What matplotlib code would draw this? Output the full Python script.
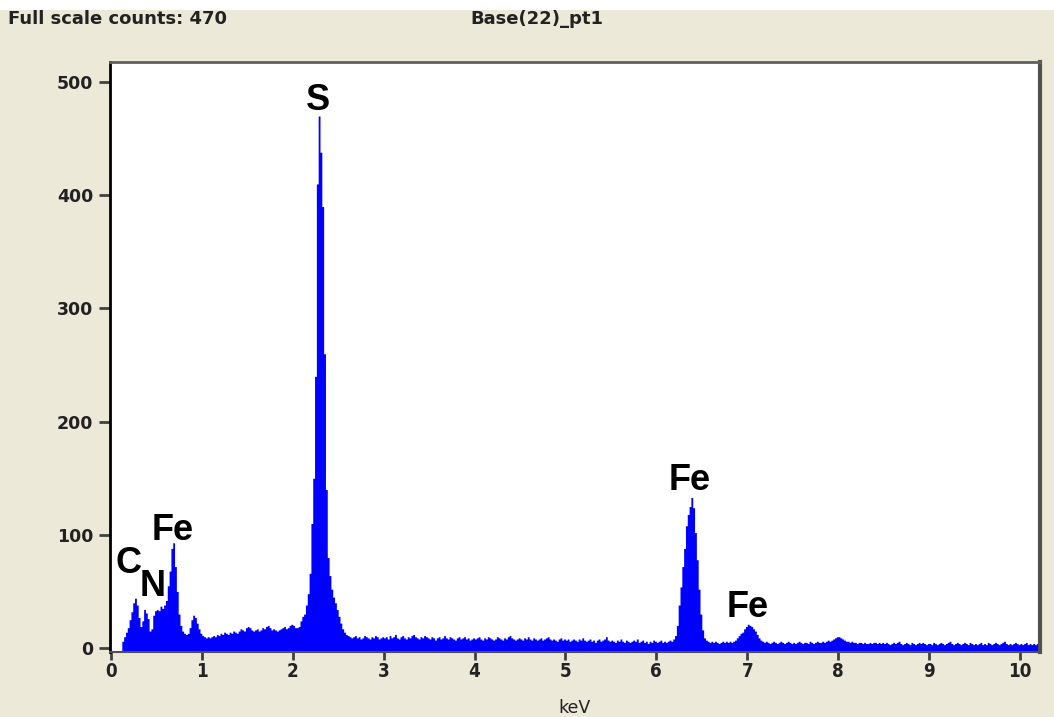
import numpy as np
import matplotlib.pyplot as plt
from matplotlib.patches import Rectangle

# EDS spectrum, 20 eV channels starting at 0.12 keV
channel_start = 0.12
channel_width = 0.02

counts = [
    # 0.12 - 0.48
    6, 10, 14, 18, 25, 32, 40, 44, 38, 27, 19, 24, 34, 31, 26, 15, 17, 29, 33,
    # 0.50 - 0.98
    34, 33, 37, 35, 38, 42, 55, 68, 88, 93, 72, 50, 30, 20, 15, 13, 12, 13, 18, 25, 29, 27, 22, 17, 13,
    # 1.00 - 1.48
    11, 10, 9, 10, 9, 10, 11, 10, 12, 11, 13, 12, 14, 13, 12, 14, 13, 15, 14, 13, 15, 17, 16, 15, 18,
    # 1.50 - 1.98
    19, 18, 16, 15, 16, 17, 15, 16, 18, 17, 19, 20, 18, 16, 17, 16, 15, 16, 17, 18, 19, 17, 18, 20, 21,
    # 2.00 - 2.48
    20, 18, 18, 19, 24, 28, 30, 38, 48, 66, 110, 150, 240, 410, 470, 438, 390, 260, 140, 80, 64, 52, 45, 40, 34,
    # 2.50 - 2.98
    28, 22, 17, 14, 12, 11, 10, 9, 10, 11, 9, 10, 8, 9, 11, 10, 9, 8, 10, 9, 11, 10, 8, 9, 10,
    # 3.00 - 3.48
    9, 10, 8, 11, 9, 10, 12, 9, 8, 10, 11, 9, 8, 10, 9, 11, 12, 10, 9, 8, 10, 9, 11, 10, 9,
    # 3.50 - 3.98
    8, 10, 9, 7, 9, 10, 8, 9, 11, 9, 8, 10, 9, 8, 7, 9, 10, 8, 9, 10, 8, 9, 7, 8, 9,
    # 4.00 - 4.48
    8, 9, 10, 8, 7, 9, 8, 10, 9, 8, 7, 8, 10, 9, 8, 7, 9, 8, 10, 11, 9, 8, 7, 8, 9,
    # 4.50 - 4.98
    8, 7, 9, 8, 10, 8, 7, 9, 8, 7, 8, 9, 7, 8, 9, 10, 8, 7, 8, 7, 6, 8, 9, 7, 8,
    # 5.00 - 5.48
    7, 8, 6, 7, 8, 7, 6, 8, 7, 9, 7, 6, 7, 8, 6, 7, 5, 7, 8, 6, 7, 8, 10, 7, 6,
    # 5.50 - 5.98
    7, 6, 5, 7, 6, 8, 6, 5, 7, 6, 5, 6, 7, 6, 8, 5, 6, 7, 5, 6, 4, 6, 5, 7, 6,
    # 6.00 - 6.48
    5, 6, 7, 5, 6, 5, 6, 7, 6, 8, 11, 20, 38, 54, 72, 88, 108, 118, 125, 133, 124, 102, 78, 52, 30,
    # 6.50 - 6.98
    16, 9, 7, 6, 5, 6, 5, 6, 5, 4, 5, 6, 5, 6, 5, 6, 5, 6, 7, 9, 11, 13, 14, 17, 19,
    # 7.00 - 7.48
    21, 20, 19, 17, 15, 12, 9, 7, 6, 5, 6, 5, 4, 5, 6, 5, 4, 5, 6, 5, 4, 5, 6, 5, 4,
    # 7.50 - 7.98
    5, 4, 5, 6, 5, 4, 5, 5, 4, 6, 5, 4, 5, 6, 5, 5, 6, 5, 6, 7, 6, 7, 8, 9, 10,
    # 8.00 - 8.48
    10, 9, 8, 7, 6, 6, 5, 6, 5, 5, 4, 5, 5, 4, 5, 4, 4, 5, 4, 5, 5, 4, 5, 4, 5,
    # 8.50 - 8.98
    4, 5, 4, 3, 4, 5, 4, 5, 6, 4, 3, 4, 5, 4, 3, 5, 4, 3, 4, 5, 4, 5, 4, 3, 4,
    # 9.00 - 9.48
    4, 3, 5, 4, 3, 4, 5, 4, 3, 4, 5, 6, 4, 3, 4, 5, 4, 3, 4, 5, 4, 3, 5, 4, 3,
    # 9.50 - 9.98
    4, 3, 4, 5, 3, 4, 3, 5, 4, 3, 4, 5, 4, 3, 4, 5, 6, 4, 3, 4, 3, 4, 5, 4, 3,
    # 10.00 - 10.18
    4, 3, 4, 5, 3, 4, 3, 4, 3, 4,
]

# peak labels: element, energy (keV), height of label centre (counts)
peak_names = ['C', 'N', 'Fe', 'S', 'Fe', 'Fe']
peak_x = [0.19, 0.46, 0.68, 2.28, 6.37, 7.01]
peak_y = [75, 54, 104, 484, 148, 36]

x_ticks = list(range(0, 11))
y_ticks = [0, 100, 200, 300, 400, 500]

counts = np.array(counts, dtype=float)
edges = channel_start + channel_width * np.arange(len(counts) + 1)
counts_step = np.append(counts, counts[-1])

beige = '#ECE9D8'
fig = plt.figure(figsize=(10.54, 7.17), dpi=100, facecolor=beige)
# thin white strip along the top of the window
fig.patches.append(Rectangle((0, 1 - 10 / 717), 1, 10 / 717, transform=fig.transFigure,
                             facecolor='white', edgecolor='none', zorder=0))

ax = fig.add_axes([110 / 1054, 1 - 652 / 717, 930 / 1054, 590 / 717])
ax.set_facecolor('white')

ax.fill_between(edges, counts_step, -10, step='post', color='#0000FF', linewidth=0)

ax.set_xlim(-0.01, 10.22)
ax.set_ylim(-3.5, 517.7)
ax.set_xticks(x_ticks)
ax.set_yticks(y_ticks)

ax.tick_params(axis='both', direction='out', width=2, color='#404040')
ax.tick_params(axis='x', length=6, pad=1)
ax.tick_params(axis='y', length=8, pad=4)
for lab in ax.get_yticklabels():
    lab.set_fontsize(12.5)
    lab.set_fontweight('bold')
    lab.set_color('#222222')
for lab in ax.get_xticklabels():
    lab.set_fontsize(13.5)
    lab.set_fontweight('bold')
    lab.set_fontstretch('condensed')
    lab.set_color('#222222')

ax.spines['left'].set_color('black')
ax.spines['left'].set_linewidth(2)
ax.spines['bottom'].set_color('#505050')
ax.spines['bottom'].set_linewidth(1.5)
ax.spines['top'].set_color('#606060')
ax.spines['top'].set_linewidth(2)
ax.spines['right'].set_color('#505050')
ax.spines['right'].set_linewidth(3)

ax.set_xlabel('keV', fontsize=12.5, color='#222222', labelpad=13)

for name, px, py in zip(peak_names, peak_x, peak_y):
    ax.text(px, py, name, ha='center', va='center', fontsize=26, fontweight='bold',
            family=['Liberation Sans', 'DejaVu Sans'], color='black')

fig.text(8 / 1054, 1 - 19 / 717, 'Full scale counts: 470', ha='left', va='center',
         fontsize=13, fontweight='bold', color='#222222')
fig.text(470 / 1054, 1 - 19 / 717, 'Base(22)_pt1', ha='left', va='center',
         fontsize=13, fontweight='bold', color='#222222')

fig.savefig('out.png', dpi=100, facecolor=beige)
